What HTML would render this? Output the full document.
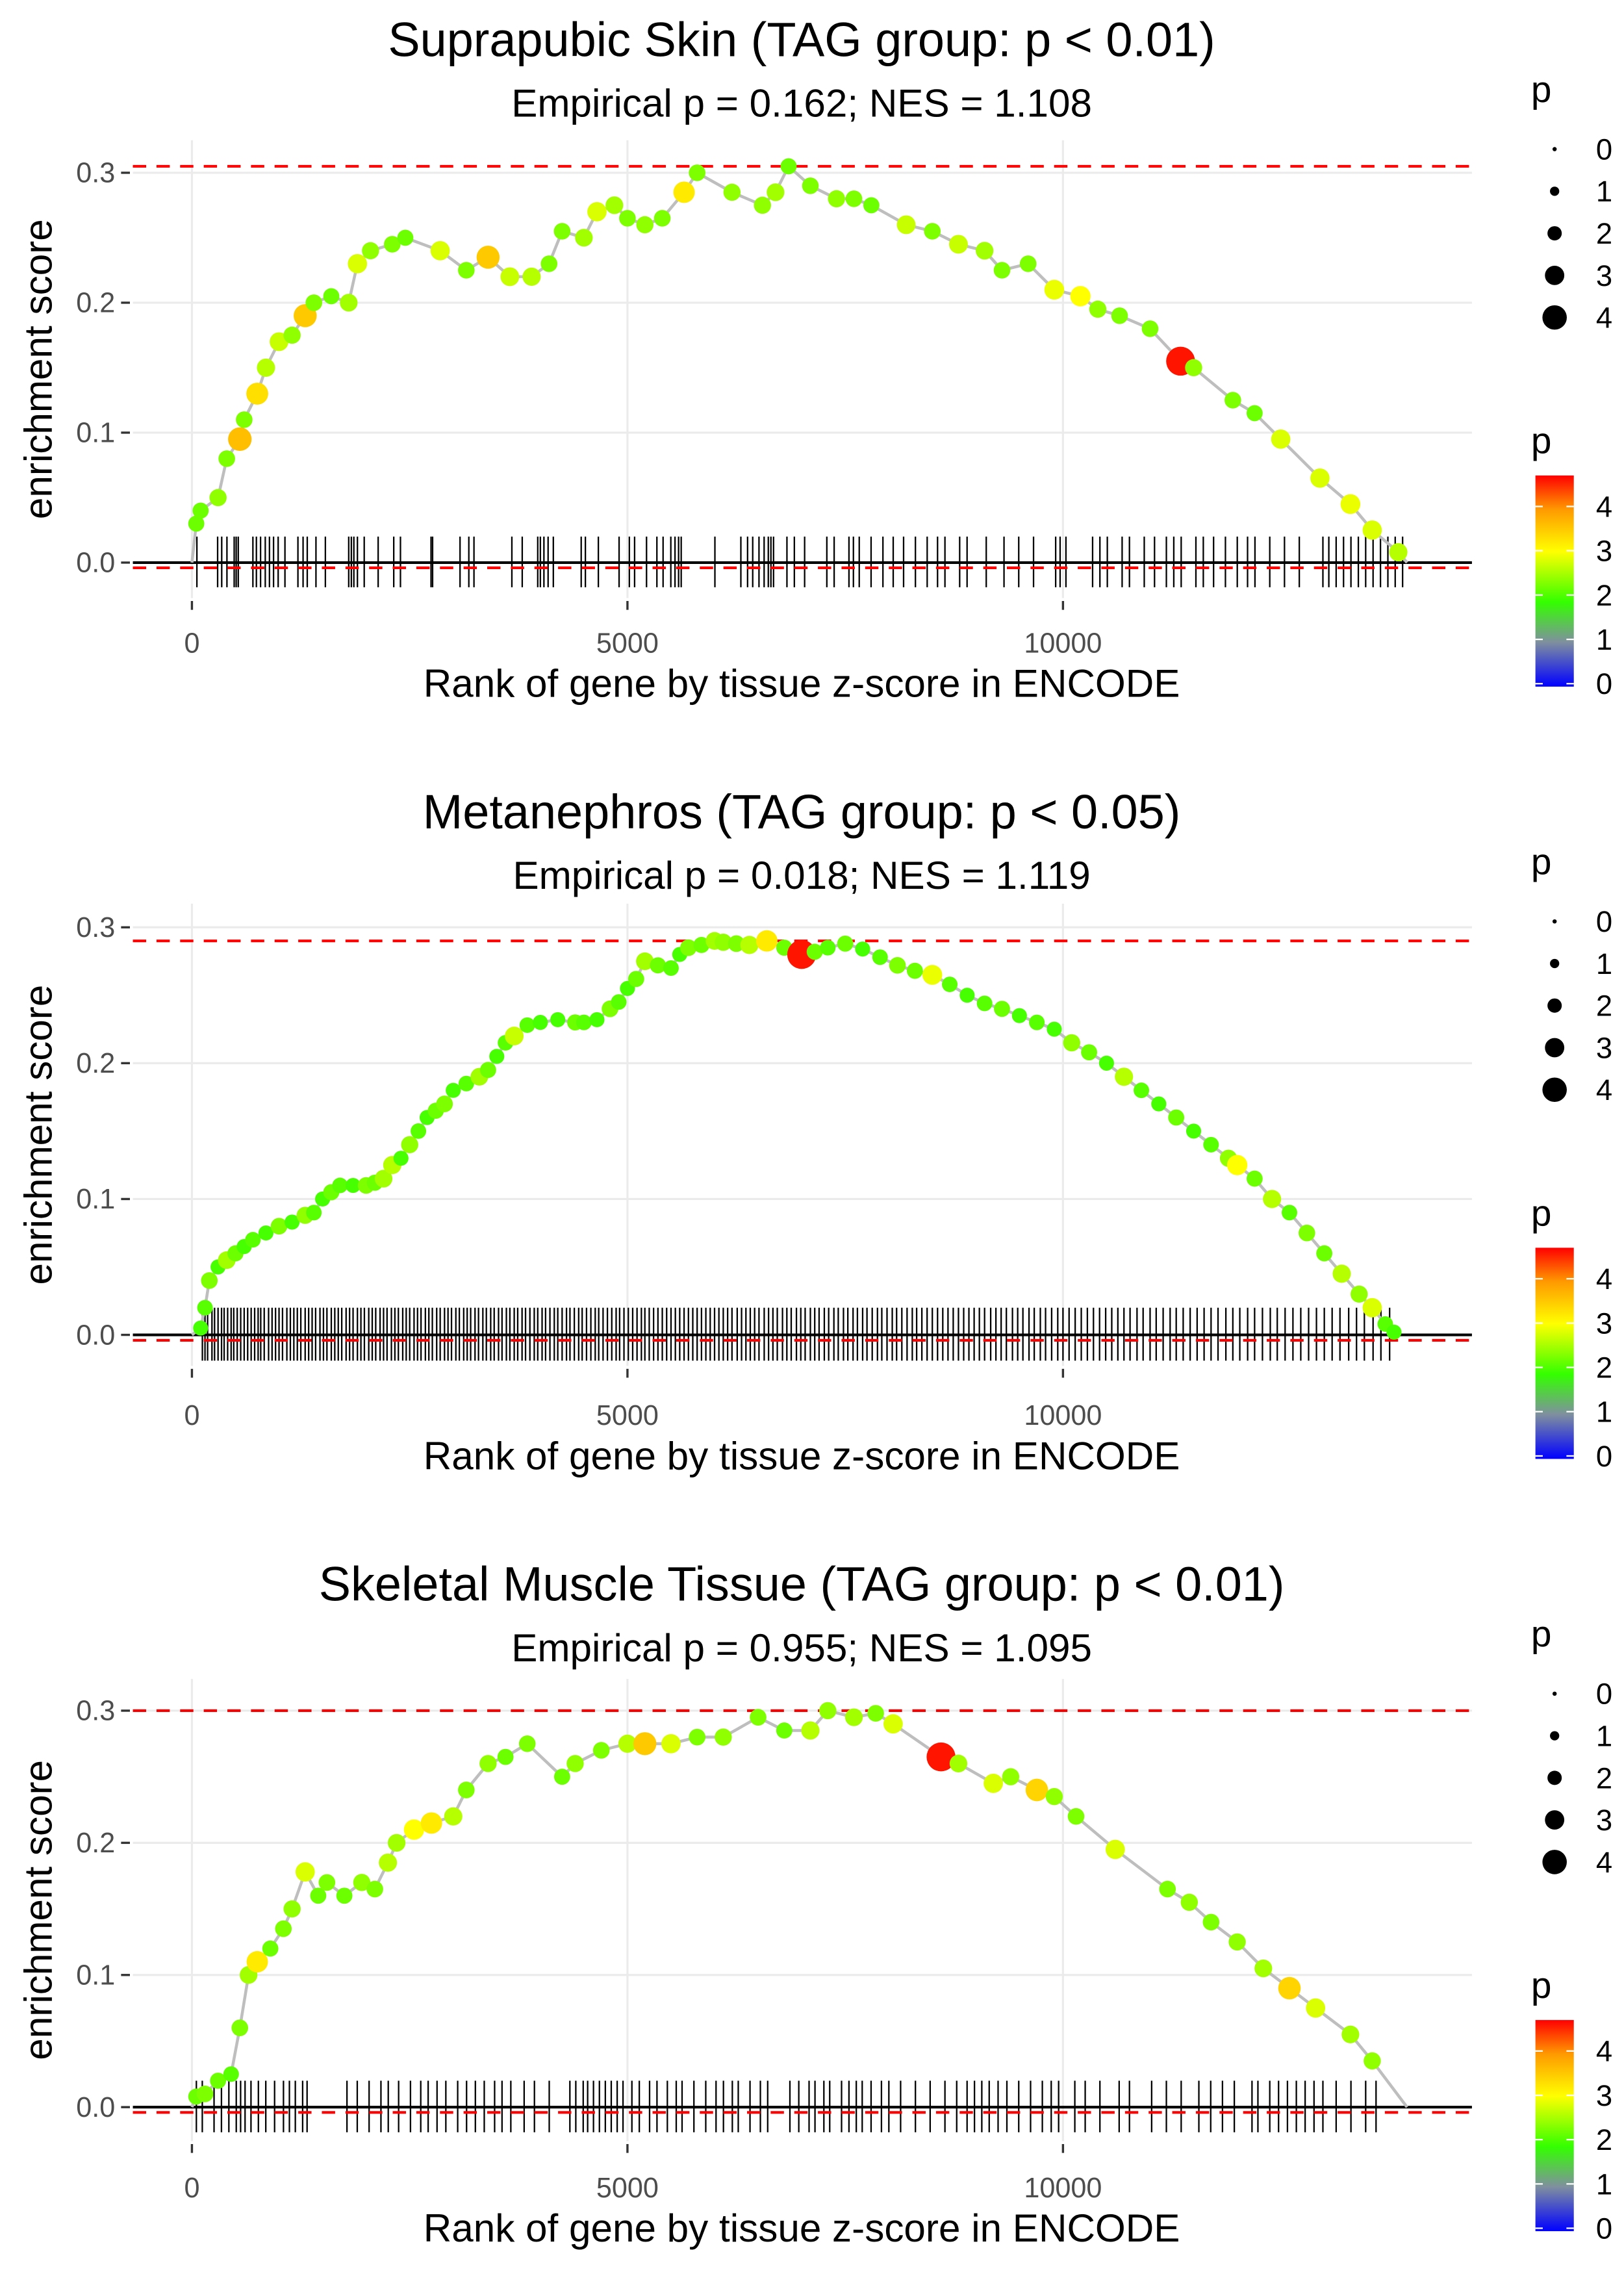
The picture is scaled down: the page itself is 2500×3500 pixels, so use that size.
<!DOCTYPE html>
<html><head><meta charset="utf-8"><style>
html,body{margin:0;padding:0;background:#fff;}
svg{display:block;font-family:"Liberation Sans",Arial,sans-serif;}
</style></head><body>
<svg id="chart" width="2500" height="3500" viewBox="0 0 1100 1540" xmlns="http://www.w3.org/2000/svg">
<defs>
<linearGradient id="pgrad" x1="0" y1="1" x2="0" y2="0">
<stop offset="0" stop-color="#0000ff"/>
<stop offset="0.21" stop-color="#7f8f9f"/>
<stop offset="0.4" stop-color="#33ff00"/>
<stop offset="0.64" stop-color="#ffff00"/>
<stop offset="0.84" stop-color="#ff9900"/>
<stop offset="1" stop-color="#ff0000"/>
</linearGradient>
</defs>
</svg>
<script>
// ---- data ----
const titles = ["Suprapubic Skin (TAG group: p < 0.01)","Metanephros (TAG group: p < 0.05)","Skeletal Muscle Tissue (TAG group: p < 0.01)"];
const subtitles = ["Empirical p = 0.162; NES = 1.108","Empirical p = 0.018; NES = 1.119","Empirical p = 0.955; NES = 1.095"];
const xTicks = [0,5000,10000];
const yTicks = [0,0.1,0.2,0.3];
const yTickLabels = ["0.0","0.1","0.2","0.3"];
const minES = [-0.004,-0.004,-0.004];
const endRank = [13950,13850,13950];

const rank1 = [50,100,300,400,550,600,750,850,1000,1150,1300,1400,1600,1800,1900,2050,2300,2450,2850,3150,3400,3650,3900,4100,4250,4500,4650,4850,5000,5200,5400,5650,5800,6200,6550,6700,6850,7100,7400,7600,7800,8200,8500,8800,9100,9300,9600,9900,10200,10400,10650,11000,11350,11500,11950,12200,12500,12950,13300,13550,13850];
const es1 = [0.03,0.04,0.05,0.08,0.095,0.11,0.13,0.15,0.17,0.175,0.19,0.2,0.205,0.2,0.23,0.24,0.245,0.25,0.24,0.225,0.235,0.22,0.22,0.23,0.255,0.25,0.27,0.275,0.265,0.26,0.265,0.285,0.3,0.285,0.275,0.285,0.305,0.29,0.28,0.28,0.275,0.26,0.255,0.245,0.24,0.225,0.23,0.21,0.205,0.195,0.19,0.18,0.155,0.15,0.125,0.115,0.095,0.065,0.045,0.025,0.008];
const p1 = [2.2,2.2,2.4,2.3,3.6,2.3,3.3,2.6,2.7,2.4,3.5,2.3,2.2,2.5,2.8,2.4,2.3,2.2,2.8,2.3,3.5,2.7,2.6,2.3,2.3,2.5,2.8,2.5,2.3,2.4,2.3,3.2,2.3,2.4,2.4,2.5,2.2,2.3,2.4,2.3,2.2,2.7,2.3,2.7,2.5,2.3,2.3,2.9,3.0,2.4,2.3,2.3,4.6,2.4,2.3,2.2,2.8,2.8,2.9,2.8,2.6];

const rank2 = [100,150,200,300,400,500,600,700,850,1000,1150,1300,1400,1500,1600,1700,1850,2000,2100,2200,2300,2400,2500,2600,2700,2800,2900,3000,3150,3300,3400,3500,3600,3700,3850,4000,4200,4400,4500,4650,4800,4900,5000,5100,5200,5350,5500,5600,5700,5850,6000,6100,6250,6400,6600,6800,7000,7150,7300,7500,7700,7900,8100,8300,8500,8700,8900,9100,9300,9500,9700,9900,10100,10300,10500,10700,10900,11100,11300,11500,11700,11900,12000,12200,12400,12600,12800,13000,13200,13400,13550,13700,13800];
const es2 = [0.005,0.02,0.04,0.05,0.055,0.06,0.065,0.07,0.075,0.08,0.083,0.088,0.09,0.1,0.105,0.11,0.11,0.11,0.112,0.115,0.125,0.13,0.14,0.15,0.16,0.165,0.17,0.18,0.185,0.19,0.195,0.205,0.215,0.22,0.228,0.23,0.232,0.23,0.23,0.232,0.24,0.245,0.255,0.262,0.275,0.272,0.27,0.28,0.285,0.287,0.29,0.289,0.288,0.287,0.29,0.285,0.28,0.282,0.285,0.288,0.284,0.278,0.272,0.268,0.265,0.258,0.25,0.244,0.24,0.235,0.23,0.225,0.215,0.208,0.2,0.19,0.18,0.17,0.16,0.15,0.14,0.13,0.125,0.115,0.1,0.09,0.075,0.06,0.045,0.03,0.02,0.008,0.002];
const p2 = [2.0,2.1,2.3,2.0,2.5,2.2,2.0,2.1,2.0,2.3,2.0,2.4,2.1,2.0,2.2,2.1,2.0,2.3,2.2,2.5,2.6,2.0,2.4,2.1,2.0,2.2,2.3,2.0,2.1,2.5,2.2,2.0,2.1,2.7,2.1,2.0,2.0,2.2,2.1,2.0,2.3,2.1,2.0,2.2,2.5,2.2,2.1,2.0,2.3,2.2,2.5,2.4,2.3,2.6,3.2,2.2,4.6,2.2,2.1,2.2,2.0,2.1,2.3,2.2,2.9,2.1,2.0,2.1,2.2,2.0,2.1,2.0,2.4,2.2,2.0,2.6,2.1,2.0,2.2,2.0,2.1,2.4,3.0,2.2,2.6,2.1,2.3,2.2,2.6,2.4,2.8,2.1,2.0];

const rank3 = [50,150,300,450,550,650,750,900,1050,1150,1300,1450,1550,1750,1950,2100,2250,2350,2550,2750,3000,3150,3400,3600,3850,4250,4400,4700,5000,5200,5500,5800,6100,6500,6800,7100,7300,7600,7850,8050,8600,8800,9200,9400,9700,9900,10150,10600,11200,11450,11700,12000,12300,12600,12900,13300,13550];
const es3 = [0.008,0.01,0.02,0.025,0.06,0.1,0.11,0.12,0.135,0.15,0.178,0.16,0.17,0.16,0.17,0.165,0.185,0.2,0.21,0.215,0.22,0.24,0.26,0.265,0.275,0.25,0.26,0.27,0.275,0.275,0.275,0.28,0.28,0.295,0.285,0.285,0.3,0.295,0.298,0.29,0.265,0.26,0.245,0.25,0.24,0.235,0.22,0.195,0.165,0.155,0.14,0.125,0.105,0.09,0.075,0.055,0.035];
const p3 = [2.2,2.3,2.2,2.1,2.3,2.5,3.2,2.2,2.3,2.4,2.8,2.2,2.3,2.2,2.4,2.3,2.6,2.5,3.0,3.2,2.6,2.3,2.4,2.2,2.3,2.2,2.4,2.3,2.6,3.5,2.8,2.3,2.4,2.3,2.2,2.6,2.4,2.5,2.3,2.8,4.6,2.5,2.8,2.4,3.4,2.4,2.3,2.8,2.3,2.4,2.3,2.4,2.5,3.4,2.8,2.5,2.4];

const rug1 = [57,295,342,402,485,508,532,700,740,788,842,890,937,990,1068,1217,1276,1324,1424,1532,1800,1830,1859,1900,1978,2138,2317,2394,2745,2763,3078,3179,3238,3673,3792,3970,4000,4041,4089,4149,4469,4517,4666,4904,5022,5082,5219,5338,5409,5498,5546,5587,5617,6004,6302,6379,6438,6510,6569,6617,6647,6677,6831,6916,7034,7289,7373,7543,7594,7661,7797,7933,8051,8170,8306,8441,8560,8645,8814,8899,9119,9323,9492,9662,9916,9967,10034,10340,10424,10509,10679,10763,10933,11051,11187,11272,11357,11526,11611,11729,11865,12001,12119,12204,12374,12543,12713,12984,13052,13136,13221,13306,13391,13475,13560,13645,13730,13814,13899];
const rug2 = [120,150,180,230,260,300,340,370,410,450,480,520,560,600,640,680,720,760,790,830,880,920,960,1000,1040,1090,1130,1170,1210,1250,1300,1340,1380,1420,1470,1510,1550,1600,1640,1680,1720,1770,1810,1850,1900,1940,1980,2030,2070,2110,2160,2200,2240,2290,2330,2370,2420,2460,2500,2550,2590,2630,2680,2720,2760,2810,2850,2900,2940,2980,3030,3070,3120,3160,3200,3250,3290,3340,3380,3430,3470,3520,3560,3610,3650,3700,3740,3790,3830,3880,3930,3970,4020,4060,4110,4160,4200,4250,4300,4340,4390,4440,4480,4530,4580,4630,4670,4720,4770,4820,4870,4910,4960,5010,5060,5110,5160,5200,5250,5300,5350,5400,5450,5500,5550,5600,5650,5700,5750,5800,5850,5900,5950,6000,6050,6100,6150,6200,6260,6310,6360,6410,6460,6510,6570,6620,6670,6720,6780,6830,6880,6940,6990,7040,7100,7150,7200,7260,7310,7370,7420,7480,7530,7590,7640,7700,7750,7810,7870,7920,7980,8040,8090,8150,8210,8270,8320,8380,8440,8500,8560,8620,8680,8740,8800,8860,8920,8980,9040,9100,9170,9230,9290,9350,9420,9480,9540,9610,9670,9740,9800,9870,9940,10000,10070,10140,10210,10280,10350,10420,10490,10560,10630,10700,10770,10850,10920,11000,11070,11150,11230,11300,11380,11460,11540,11620,11700,11780,11870,11950,12030,12120,12200,12290,12380,12460,12550,12640,12730,12820,12910,13000,13090,13180,13280,13370,13460,13560,13650,13750];
const rug3 = [51,119,254,339,424,509,559,610,678,763,848,949,1051,1119,1187,1271,1322,1780,1898,2034,2170,2254,2373,2509,2627,2712,2814,2915,3051,3153,3254,3356,3475,3560,3661,3814,3932,4102,4339,4407,4492,4543,4610,4678,4746,4814,4882,4949,5051,5136,5254,5339,5458,5560,5627,5763,5899,6017,6102,6204,6272,6407,6526,6610,6865,6967,7085,7153,7255,7322,7458,7543,7627,7695,7797,7916,8001,8136,8306,8475,8645,8780,8899,8984,9068,9153,9255,9356,9492,9628,9763,9865,9950,10136,10255,10424,10645,10763,11018,11187,11357,11560,11696,11831,11967,12170,12238,12374,12475,12577,12679,12780,12882,12984,13136,13306,13475,13594];

const ranks = [rank1,rank2,rank3], esv = [es1,es2,es3], pv = [p1,p2,p3], rugs = [rug1,rug2,rug3];
const sizeLegend = [0,1,2,3,4];
const colorLegend = [0,1,2,3,4];

// ---- layout ----
const NS = "http://www.w3.org/2000/svg";
const svg = document.getElementById("chart");
const dyP = [0,523,1046];
const y0P = [381,904,1427];
const pxPer = [880,920,895];
const panelTop = [95,612,1137];
const panelBot = [405,925,1450];
const X0 = 90, X1 = 997;
function xs(r){ return 130 + r*0.059; }
function mk(tag, attrs, parent){ const e=document.createElementNS(NS,tag); for(const k in attrs) e.setAttribute(k,attrs[k]); (parent||svg).appendChild(e); return e; }
const stops = [[0,[0,0,255]],[1,[127,143,159]],[1.9,[51,255,0]],[3,[255,255,0]],[3.95,[255,153,0]],[4.7,[255,0,0]]];
function pcol(p){
  for(let i=0;i<stops.length-1;i++){
    const a=stops[i], b=stops[i+1];
    if(p<=b[0]){ const t=Math.max(0,(p-a[0])/(b[0]-a[0])); const c=a[1].map((v,j)=>Math.round(v+(b[1][j]-v)*t)); return `rgb(${c.join(",")})`; }
  }
  return "rgb(255,0,0)";
}
function prad(p){ return 1.5 + 1.8*p; }

for(let k=0;k<3;k++){
  const g = mk("g",{});
  
  
  const dy = dyP[k];
  const ys = v => y0P[k] - v*pxPer[k];
  yTicks.forEach(t=>{ mk("line",{x1:X0,x2:X1,y1:ys(t),y2:ys(t),stroke:"#ebebeb","stroke-width":1.4},g); });
  xTicks.forEach(t=>{ mk("line",{x1:xs(t),x2:xs(t),y1:panelTop[k],y2:panelBot[k],stroke:"#ebebeb","stroke-width":1.4},g); });
  const tt = mk("text",{x:543,y:38+dy,"text-anchor":"middle","font-size":32.5,fill:"#000"},g); tt.textContent=titles[k];
  
  
  const st = mk("text",{x:543,y:79+dy,"text-anchor":"middle","font-size":26.5,fill:"#000"},g); st.textContent=subtitles[k];
  
  
  yTicks.forEach((t,i)=>{
    mk("line",{x1:82,x2:88,y1:ys(t),y2:ys(t),stroke:"#333","stroke-width":1.5},g);
    const l = mk("text",{x:78,y:ys(t)+6.5,"text-anchor":"end","font-size":19,fill:"#4d4d4d"},g); l.textContent=yTickLabels[i];
    
    
  });
  xTicks.forEach(t=>{
    mk("line",{x1:xs(t),x2:xs(t),y1:panelBot[k]+2,y2:panelBot[k]+8,stroke:"#333","stroke-width":1.5},g);
    const l = mk("text",{x:xs(t),y:442+dy,"text-anchor":"middle","font-size":19,fill:"#4d4d4d"},g); l.textContent=String(t);
    
    
  });
  const xt = mk("text",{x:543,y:472+dy,"text-anchor":"middle","font-size":26.5,fill:"#000"},g); xt.textContent="Rank of gene by tissue z-score in ENCODE";
  
  
  const ymid = (panelTop[k]+panelBot[k])/2;
  const yt = mk("text",{x:0,y:0,"text-anchor":"middle","font-size":26.5,fill:"#000",transform:`translate(35,${ymid}) rotate(-90)`},g); yt.textContent="enrichment score";
  
  
  rugs[k].forEach(r=>{
    const l = mk("line",{x1:xs(r),x2:xs(r),y1:ys(0.02),y2:ys(-0.019),stroke:"#000","stroke-width":1},g);
    
    
  });
  mk("line",{x1:X0,x2:X1,y1:ys(0),y2:ys(0),stroke:"#000","stroke-width":1.8},g);
  const mx = Math.max(...esv[k]);
  const d1 = mk("line",{x1:X0,x2:X1,y1:ys(mx),y2:ys(mx),stroke:"#ff0000","stroke-width":1.8,"stroke-dasharray":"9 7"},g);
  
  
  const d2 = mk("line",{x1:X0,x2:X1,y1:ys(minES[k]),y2:ys(minES[k]),stroke:"#ff0000","stroke-width":1.8,"stroke-dasharray":"9 7"},g);
  
  
  let pts = [[xs(0),ys(0)]];
  ranks[k].forEach((r,i)=>pts.push([xs(r),ys(esv[k][i])]));
  pts.push([xs(endRank[k]),ys(0)]);
  const pl = mk("polyline",{points:pts.map(p=>p.join(",")).join(" "),fill:"none",stroke:"#bebebe","stroke-width":2},g);
  
  
  ranks[k].forEach((r,i)=>{
    const c = mk("circle",{cx:xs(r),cy:ys(esv[k][i]),r:prad(pv[k][i]),fill:pcol(pv[k][i])},g);
    
    
  });
  const lt = mk("text",{x:1037,y:69+dy,"font-size":25,fill:"#000"},g); lt.textContent="p";
  
  
  sizeLegend.forEach((v,i)=>{
    const yy = 101+dy+i*28.5;
    const c = mk("circle",{cx:1053,cy:yy,r:prad(v)*0.95,fill:"#000"},g);
    
    
    const l = mk("text",{x:1081,y:yy+7,"font-size":20,fill:"#000"},g); l.textContent=String(v);
    
    
  });
  const ct = mk("text",{x:1037,y:307+dy,"font-size":25,fill:"#000"},g); ct.textContent="p";
  
  
  const bar = mk("rect",{x:1040,y:322+dy,width:26,height:143,fill:"url(#pgrad)"},g);
  
  
  colorLegend.forEach(v=>{
    const yy = 463+dy - v*30;
    mk("line",{x1:1040,x2:1045,y1:yy,y2:yy,stroke:"#fff","stroke-width":1},g);
    mk("line",{x1:1061,x2:1066,y1:yy,y2:yy,stroke:"#fff","stroke-width":1},g);
    const l = mk("text",{x:1081,y:yy+7,"font-size":20,fill:"#000"},g); l.textContent=String(v);
    
    
  });
}
</script>
</body></html>
